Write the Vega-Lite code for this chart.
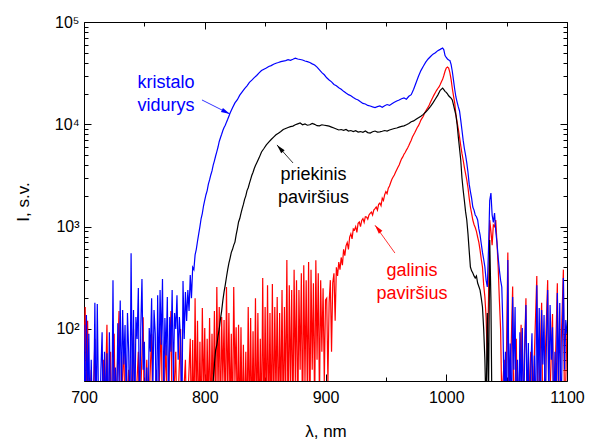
{
"$schema": "https://vega.github.io/schema/vega-lite/v6.json",
"width": 483, "height": 359,
"autosize": {"type": "none"},
"padding": {"left": 84, "top": 22, "right": 33, "bottom": 60},
"background": "white",
"config": {"view": {"stroke": "#000", "strokeWidth": 1}, "scale": {"continuousPadding": 0}, "axis": {"grid": false, "domain": false, "labelFlush": false, "tickColor": "#000", "tickWidth": 1, "labelColor": "#000", "titleColor": "#000", "labelFont": "Liberation Sans", "titleFont": "Liberation Sans"}},
"datasets": {
"b": [{"x":700,"y":110},{"x":701,"y":10},{"x":702,"y":137},{"x":703,"y":20},{"x":704,"y":90},{"x":705,"y":10},{"x":706,"y":50},{"x":707,"y":10},{"x":708,"y":15},{"x":709,"y":180},{"x":710,"y":10},{"x":711,"y":175},{"x":712,"y":20},{"x":713,"y":10},{"x":714,"y":40},{"x":715,"y":93},{"x":716,"y":10},{"x":717,"y":60},{"x":718,"y":15},{"x":719,"y":58},{"x":720,"y":10},{"x":721,"y":93},{"x":722,"y":20},{"x":723,"y":10},{"x":724,"y":300},{"x":725,"y":10},{"x":726,"y":42},{"x":727,"y":10},{"x":728,"y":114},{"x":729,"y":30},{"x":730,"y":190},{"x":731,"y":20},{"x":732,"y":153},{"x":733,"y":45},{"x":734,"y":109},{"x":735,"y":15},{"x":736,"y":143},{"x":737,"y":60},{"x":738,"y":10},{"x":739,"y":550},{"x":740,"y":20},{"x":741,"y":153},{"x":742,"y":10},{"x":743,"y":131},{"x":744,"y":80},{"x":745,"y":251},{"x":746,"y":10},{"x":747,"y":100},{"x":748,"y":307},{"x":749,"y":40},{"x":750,"y":75},{"x":751,"y":10},{"x":752,"y":42},{"x":753,"y":10},{"x":754,"y":102},{"x":755,"y":60},{"x":756,"y":200},{"x":757,"y":25},{"x":758,"y":153},{"x":759,"y":90},{"x":760,"y":10},{"x":761,"y":214},{"x":762,"y":30},{"x":763,"y":240},{"x":764,"y":70},{"x":765,"y":307},{"x":766,"y":20},{"x":767,"y":128},{"x":768,"y":55},{"x":769,"y":205},{"x":770,"y":15},{"x":771,"y":131},{"x":772,"y":60},{"x":773,"y":240},{"x":774,"y":30},{"x":775,"y":143},{"x":776,"y":100},{"x":777,"y":214},{"x":778,"y":50},{"x":779,"y":131},{"x":780,"y":78},{"x":781,"y":10},{"x":782,"y":294},{"x":783,"y":80},{"x":784,"y":230},{"x":785,"y":120},{"x":786,"y":240},{"x":787,"y":150},{"x":788,"y":336},{"x":789,"y":200},{"x":790,"y":400},
{"x":791,"y":380},{"x":792,"y":530},{"x":793,"y":600},{"x":794,"y":720},{"x":795,"y":850},{"x":796,"y":1000},{"x":797,"y":1200},{"x":798,"y":1350},{"x":799,"y":1600},{"x":800,"y":1820},{"x":801,"y":2050},{"x":802,"y":2250},{"x":803,"y":2600},{"x":804,"y":2860},{"x":805,"y":3200},{"x":806,"y":3500},{"x":807,"y":4000},{"x":808,"y":4400},{"x":809,"y":4900},{"x":810,"y":5400},{"x":811,"y":6000},{"x":812,"y":6800},{"x":813,"y":7400},{"x":814,"y":8000},{"x":815,"y":8700},{"x":816,"y":9300},{"x":817,"y":9800},{"x":818,"y":10500},{"x":819,"y":11200},{"x":820,"y":12000},{"x":821,"y":12900},{"x":823,"y":14500},{"x":825,"y":16200},{"x":827,"y":17400},{"x":829,"y":19300},{"x":831,"y":20800},{"x":833,"y":22300},{"x":835,"y":23800},{"x":837,"y":25700},{"x":839,"y":27000},{"x":841,"y":28600},{"x":843,"y":30000},{"x":845,"y":31800},{"x":847,"y":33500},{"x":849,"y":34600},{"x":851,"y":35500},{"x":853,"y":36800},{"x":855,"y":37500},{"x":857,"y":38700},{"x":859,"y":39500},{"x":861,"y":40200},{"x":863,"y":41000},{"x":865,"y":41500},{"x":867,"y":42000},{"x":869,"y":42800},{"x":871,"y":42200},{"x":873,"y":43200},{"x":875,"y":44300},{"x":877,"y":43500},{"x":879,"y":43000},{"x":881,"y":42500},{"x":883,"y":41600},{"x":885,"y":41000},{"x":887,"y":40200},{"x":889,"y":39000},{"x":891,"y":38000},{"x":893,"y":36200},{"x":895,"y":34000},{"x":897,"y":32000},{"x":899,"y":30500},{"x":901,"y":28500},{"x":903,"y":27100},{"x":905,"y":26000},{"x":907,"y":24500},{"x":909,"y":23800},{"x":911,"y":22800},{"x":913,"y":22000},{"x":915,"y":21000},{"x":917,"y":20200},{"x":919,"y":19500},{"x":921,"y":19000},{"x":923,"y":18300},{"x":925,"y":17700},{"x":927,"y":17300},{"x":929,"y":16600},{"x":931,"y":16000},{"x":933,"y":15800},{"x":935,"y":15300},{"x":937,"y":15100},{"x":939,"y":14800},{"x":941,"y":14600},{"x":943,"y":14900},{"x":945,"y":15100},{"x":947,"y":14700},{"x":949,"y":15200},{"x":951,"y":15600},{"x":953,"y":15300},{"x":955,"y":15900},{"x":957,"y":16400},{"x":959,"y":16900},{"x":961,"y":17300},{"x":963,"y":17800},{"x":965,"y":18100},{"x":967,"y":17600},{"x":969,"y":18800},{"x":971,"y":19500},{"x":973,"y":22000},{"x":975,"y":25500},{"x":977,"y":29500},{"x":979,"y":33500},{"x":981,"y":37000},{"x":983,"y":40500},{"x":985,"y":43500},{"x":987,"y":46000},{"x":989,"y":48500},{"x":991,"y":50000},{"x":993,"y":52500},{"x":995,"y":54000},{"x":997,"y":55700},{"x":998,"y":53500},{"x":999,"y":47000},{"x":1000,"y":45000},{"x":1001,"y":43500},{"x":1002,"y":42500},{"x":1003,"y":42000},{"x":1004,"y":38500},{"x":1005,"y":33000},{"x":1006,"y":27000},{"x":1007,"y":22000},{"x":1008,"y":18500},{"x":1009,"y":16500},{"x":1010,"y":14800},{"x":1011,"y":13500},{"x":1012,"y":11000},{"x":1013,"y":8800},{"x":1014,"y":7000},{"x":1015,"y":5800},{"x":1016,"y":5000},{"x":1017,"y":4200},{"x":1018,"y":3400},{"x":1019,"y":2600},{"x":1020,"y":2200},{"x":1021,"y":1900},{"x":1022,"y":1556},{"x":1023,"y":1450},{"x":1024,"y":1300},{"x":1025,"y":1250},{"x":1026,"y":1161},{"x":1027,"y":950},{"x":1028,"y":830},{"x":1029,"y":680},{"x":1030,"y":560},{"x":1031,"y":480},{"x":1032,"y":403},{"x":1033,"y":300},{"x":1034,"y":257},{"x":1035,"y":600},{"x":1036,"y":1800},{"x":1037,"y":2130},{"x":1038,"y":1300},{"x":1039,"y":1100},{"x":1040,"y":1358},{"x":1041,"y":900},{"x":1042,"y":700},{"x":1043,"y":500},{"x":1044,"y":377},{"x":1045,"y":300},{"x":1046,"y":257},{"x":1047,"y":97},{"x":1048,"y":20},
{"x":1049,"y":60},{"x":1050,"y":10},{"x":1051,"y":472},{"x":1052,"y":20},{"x":1053,"y":72},{"x":1054,"y":10},{"x":1055,"y":205},{"x":1056,"y":40},{"x":1057,"y":164},{"x":1058,"y":10},{"x":1059,"y":50},{"x":1060,"y":10},{"x":1061,"y":93},{"x":1062,"y":20},{"x":1063,"y":102},{"x":1064,"y":10},{"x":1065,"y":60},{"x":1066,"y":171},{"x":1067,"y":15},{"x":1068,"y":73},{"x":1069,"y":10},{"x":1070,"y":40},{"x":1071,"y":91},{"x":1072,"y":10},{"x":1073,"y":55},{"x":1074,"y":10},{"x":1075,"y":268},{"x":1076,"y":30},{"x":1077,"y":160},{"x":1078,"y":10},{"x":1079,"y":153},{"x":1080,"y":45},{"x":1081,"y":137},{"x":1082,"y":10},{"x":1083,"y":80},{"x":1084,"y":240},{"x":1085,"y":20},{"x":1086,"y":171},{"x":1087,"y":50},{"x":1088,"y":104},{"x":1089,"y":10},{"x":1090,"y":60},{"x":1091,"y":15},{"x":1092,"y":224},{"x":1093,"y":30},{"x":1094,"y":179},{"x":1095,"y":10},{"x":1096,"y":70},{"x":1097,"y":315},{"x":1098,"y":40},{"x":1099,"y":122},{"x":1100,"y":90}],
"k": [{"x":805,"y":10},{"x":806,"y":20},{"x":807,"y":31},{"x":808,"y":45},{"x":809,"y":62},{"x":810,"y":70},{"x":811,"y":85},{"x":812,"y":100},{"x":813,"y":125},{"x":814,"y":150},{"x":815,"y":190},{"x":816,"y":230},{"x":817,"y":270},{"x":818,"y":322},{"x":819,"y":380},{"x":820,"y":440},{"x":821,"y":493},{"x":822,"y":560},{"x":823,"y":600},{"x":824,"y":660},{"x":825,"y":706},{"x":826,"y":830},{"x":827,"y":950},{"x":828,"y":1110},{"x":829,"y":1200},{"x":830,"y":1350},{"x":831,"y":1500},{"x":832,"y":1650},{"x":833,"y":1850},{"x":834,"y":2000},{"x":835,"y":2250},{"x":836,"y":2400},{"x":837,"y":2650},{"x":838,"y":2900},{"x":839,"y":3180},{"x":840,"y":3400},{"x":841,"y":3700},{"x":842,"y":3950},{"x":843,"y":4190},{"x":845,"y":4700},{"x":847,"y":5370},{"x":849,"y":5800},{"x":851,"y":6300},{"x":853,"y":6700},{"x":855,"y":7100},{"x":857,"y":7500},{"x":859,"y":7900},{"x":861,"y":8200},{"x":863,"y":8500},{"x":865,"y":8900},{"x":867,"y":9100},{"x":869,"y":9300},{"x":871,"y":9500},{"x":873,"y":9600},{"x":875,"y":9900},{"x":877,"y":10100},{"x":879,"y":10300},{"x":881,"y":9900},{"x":883,"y":10100},{"x":885,"y":9800},{"x":887,"y":9900},{"x":889,"y":10200},{"x":891,"y":10000},{"x":893,"y":9700},{"x":895,"y":9650},{"x":897,"y":9900},{"x":899,"y":9800},{"x":901,"y":9700},{"x":903,"y":9600},{"x":905,"y":9400},{"x":907,"y":9200},{"x":909,"y":9000},{"x":911,"y":8800},{"x":913,"y":8900},{"x":915,"y":8750},{"x":917,"y":8900},{"x":919,"y":8600},{"x":921,"y":8700},{"x":923,"y":8500},{"x":925,"y":8650},{"x":927,"y":8400},{"x":929,"y":8500},{"x":931,"y":8350},{"x":933,"y":8600},{"x":935,"y":8300},{"x":937,"y":8200},{"x":939,"y":8450},{"x":941,"y":8600},{"x":943,"y":8400},{"x":945,"y":8450},{"x":947,"y":8550},{"x":949,"y":8700},{"x":951,"y":8600},{"x":953,"y":8800},{"x":955,"y":8950},{"x":957,"y":9100},{"x":959,"y":9200},{"x":961,"y":9400},{"x":963,"y":9550},{"x":965,"y":9650},{"x":967,"y":9900},{"x":969,"y":10200},{"x":971,"y":10600},{"x":973,"y":10800},{"x":975,"y":11200},{"x":977,"y":11600},{"x":979,"y":12000},{"x":981,"y":12500},{"x":983,"y":13200},{"x":985,"y":14000},{"x":987,"y":15000},{"x":989,"y":16200},{"x":991,"y":17700},{"x":993,"y":19300},{"x":995,"y":21500},{"x":997,"y":22600},{"x":998,"y":21800},{"x":999,"y":21000},{"x":1000,"y":20500},{"x":1001,"y":19800},{"x":1002,"y":19000},{"x":1003,"y":18500},{"x":1004,"y":18000},{"x":1005,"y":17300},{"x":1006,"y":15500},{"x":1007,"y":13800},{"x":1008,"y":12300},{"x":1009,"y":10000},{"x":1010,"y":7500},{"x":1011,"y":5800},{"x":1012,"y":4480},{"x":1013,"y":3000},{"x":1014,"y":2280},{"x":1015,"y":1800},{"x":1016,"y":1400},{"x":1017,"y":1161},{"x":1018,"y":850},{"x":1019,"y":580},{"x":1020,"y":403},{"x":1021,"y":370},{"x":1022,"y":352},{"x":1023,"y":330},{"x":1024,"y":315},{"x":1025,"y":330},{"x":1026,"y":281},{"x":1027,"y":260},{"x":1028,"y":240},{"x":1029,"y":200},{"x":1030,"y":164},{"x":1031,"y":100},{"x":1032,"y":50},{"x":1033,"y":15},{"x":1034,"y":143},{"x":1035,"y":20},{"x":1036,"y":740},{"x":1037,"y":192},{"x":1038,"y":10}],
"r": [{"x":700,"y":60},{"x":701,"y":164},{"x":702,"y":10},{"x":703,"y":120},{"x":704,"y":10},{"x":706,"y":40},{"x":707,"y":10},{"x":709,"y":80},{"x":710,"y":10},{"x":713,"y":30},{"x":714,"y":10},{"x":716,"y":50},{"x":717,"y":10},{"x":719,"y":110},{"x":720,"y":10},{"x":722,"y":60},{"x":723,"y":10},{"x":725,"y":90},{"x":726,"y":10},{"x":729,"y":150},{"x":730,"y":10},{"x":733,"y":70},{"x":734,"y":10},{"x":737,"y":40},{"x":738,"y":10},{"x":741,"y":100},{"x":742,"y":10},{"x":745,"y":60},{"x":746,"y":10},{"x":749,"y":130},{"x":750,"y":10},{"x":752,"y":50},{"x":753,"y":10},{"x":756,"y":90},{"x":757,"y":10},{"x":760,"y":40},{"x":761,"y":10},{"x":764,"y":110},{"x":765,"y":10},{"x":768,"y":70},{"x":769,"y":10},{"x":772,"y":150},{"x":773,"y":10},{"x":776,"y":60},{"x":777,"y":10},{"x":780,"y":100},{"x":781,"y":10},{"x":784,"y":50},{"x":785,"y":10},{"x":788,"y":80},{"x":789,"y":10},
{"x":790,"y":78},{"x":791,"y":10},{"x":792,"y":200},{"x":793,"y":15},{"x":794,"y":120},{"x":795,"y":10},{"x":796,"y":75},{"x":797,"y":10},{"x":798,"y":160},{"x":799,"y":20},{"x":800,"y":102},{"x":801,"y":10},{"x":802,"y":80},{"x":803,"y":15},{"x":804,"y":128},{"x":805,"y":10},{"x":806,"y":90},{"x":807,"y":20},{"x":808,"y":150},{"x":809,"y":10},{"x":810,"y":257},{"x":811,"y":25},{"x":812,"y":164},{"x":813,"y":10},{"x":814,"y":131},{"x":815,"y":30},{"x":816,"y":122},{"x":817,"y":10},{"x":818,"y":257},{"x":819,"y":20},{"x":820,"y":143},{"x":821,"y":15},{"x":822,"y":90},{"x":823,"y":10},{"x":824,"y":257},{"x":825,"y":30},{"x":826,"y":104},{"x":827,"y":10},{"x":828,"y":110},{"x":829,"y":10},{"x":830,"y":104},{"x":831,"y":10},{"x":832,"y":70},{"x":833,"y":10},{"x":834,"y":60},{"x":835,"y":10},{"x":836,"y":164},{"x":837,"y":10},{"x":838,"y":128},{"x":839,"y":10},{"x":840,"y":95},{"x":841,"y":10},{"x":842,"y":200},{"x":843,"y":10},{"x":844,"y":143},{"x":845,"y":10},{"x":846,"y":80},{"x":847,"y":10},{"x":848,"y":315},{"x":849,"y":10},{"x":850,"y":164},{"x":851,"y":10},{"x":852,"y":268},{"x":853,"y":10},{"x":854,"y":143},{"x":855,"y":10},{"x":856,"y":275},{"x":857,"y":10},{"x":858,"y":164},{"x":859,"y":20},{"x":860,"y":205},{"x":861,"y":10},{"x":862,"y":143},{"x":863,"y":15},{"x":864,"y":240},{"x":865,"y":10},{"x":866,"y":164},{"x":867,"y":20},{"x":868,"y":472},{"x":869,"y":10},{"x":870,"y":268},{"x":871,"y":25},{"x":872,"y":240},{"x":873,"y":10},{"x":874,"y":380},{"x":875,"y":30},{"x":876,"y":300},{"x":877,"y":10},{"x":878,"y":240},{"x":879,"y":40},{"x":880,"y":350},{"x":881,"y":10},{"x":882,"y":420},{"x":883,"y":30},{"x":884,"y":300},{"x":885,"y":20},{"x":886,"y":450},{"x":887,"y":10},{"x":888,"y":380},{"x":889,"y":40},{"x":890,"y":280},{"x":891,"y":15},{"x":892,"y":470},{"x":893,"y":50},{"x":894,"y":350},{"x":895,"y":20},{"x":896,"y":300},{"x":897,"y":60},{"x":898,"y":250},{"x":899,"y":30},{"x":900,"y":192},
{"x":901,"y":200},{"x":902,"y":30},{"x":903,"y":180},{"x":904,"y":300},{"x":905,"y":60},{"x":906,"y":281},{"x":907,"y":350},{"x":908,"y":120},{"x":909,"y":400},{"x":910,"y":330},{"x":911,"y":451},{"x":912,"y":380},{"x":913,"y":500},{"x":914,"y":420},{"x":915,"y":600},{"x":916,"y":520},{"x":917,"y":650},{"x":918,"y":700},{"x":919,"y":600},{"x":920,"y":791},{"x":921,"y":850},{"x":922,"y":760},{"x":923,"y":950},{"x":924,"y":927},{"x":925,"y":1000},{"x":926,"y":880},{"x":927,"y":1080},{"x":928,"y":1110},{"x":929,"y":1000},{"x":930,"y":1150},{"x":931,"y":1200},{"x":932,"y":1100},{"x":933,"y":1250},{"x":934,"y":1241},{"x":935,"y":1180},{"x":936,"y":1300},{"x":937,"y":1350},{"x":938,"y":1390},{"x":939,"y":1300},{"x":940,"y":1450},{"x":941,"y":1500},{"x":942,"y":1556},{"x":943,"y":1450},{"x":944,"y":1650},{"x":945,"y":1700},{"x":946,"y":1600},{"x":947,"y":1900},{"x":948,"y":1800},{"x":949,"y":2050},{"x":950,"y":2200},{"x":951,"y":2100},{"x":952,"y":2380},{"x":953,"y":2500},{"x":954,"y":2700},{"x":955,"y":2900},{"x":956,"y":3050},{"x":957,"y":3200},{"x":958,"y":3400},{"x":959,"y":3600},{"x":960,"y":3800},{"x":961,"y":4000},{"x":962,"y":4300},{"x":963,"y":4600},{"x":964,"y":4800},{"x":965,"y":5100},{"x":966,"y":5300},{"x":967,"y":5600},{"x":968,"y":5870},{"x":969,"y":6200},{"x":970,"y":6600},{"x":971,"y":7000},{"x":972,"y":7510},{"x":973,"y":7900},{"x":974,"y":8300},{"x":975,"y":8800},{"x":976,"y":9300},{"x":977,"y":9700},{"x":978,"y":10300},{"x":979,"y":11000},{"x":980,"y":11500},{"x":981,"y":12000},{"x":982,"y":12800},{"x":983,"y":13500},{"x":984,"y":14100},{"x":985,"y":14700},{"x":986,"y":15500},{"x":987,"y":16500},{"x":988,"y":17500},{"x":989,"y":18500},{"x":990,"y":19500},{"x":991,"y":20500},{"x":992,"y":21500},{"x":993,"y":22400},{"x":994,"y":23200},{"x":995,"y":24500},{"x":996,"y":26000},{"x":997,"y":27500},{"x":998,"y":30000},{"x":999,"y":33000},{"x":1000,"y":35500},{"x":1001,"y":36300},{"x":1002,"y":35500},{"x":1003,"y":32000},{"x":1004,"y":27500},{"x":1005,"y":22500},{"x":1006,"y":19000},{"x":1007,"y":16200},{"x":1008,"y":12500},{"x":1009,"y":10500},{"x":1010,"y":9000},{"x":1011,"y":7510},{"x":1012,"y":6200},{"x":1013,"y":5200},{"x":1014,"y":4480},{"x":1015,"y":3800},{"x":1016,"y":3300},{"x":1017,"y":2860},{"x":1018,"y":2400},{"x":1019,"y":1900},{"x":1020,"y":1556},{"x":1021,"y":1350},{"x":1022,"y":1161},{"x":1023,"y":1050},{"x":1024,"y":980},{"x":1025,"y":900},{"x":1026,"y":791},{"x":1027,"y":700},{"x":1028,"y":590},{"x":1029,"y":480},{"x":1030,"y":403},{"x":1031,"y":268},{"x":1032,"y":205},{"x":1033,"y":130},{"x":1034,"y":50},{"x":1035,"y":192},{"x":1036,"y":1161},{"x":1037,"y":900},{"x":1038,"y":660},{"x":1039,"y":1037},{"x":1040,"y":1000},{"x":1041,"y":1161},{"x":1042,"y":700},{"x":1043,"y":403},{"x":1044,"y":192},{"x":1045,"y":100},{"x":1046,"y":20},
{"x":1048,"y":50},{"x":1049,"y":10},{"x":1051,"y":560},{"x":1052,"y":10},{"x":1055,"y":260},{"x":1056,"y":10},{"x":1058,"y":80},{"x":1059,"y":10},{"x":1062,"y":110},{"x":1063,"y":10},{"x":1066,"y":200},{"x":1067,"y":10},{"x":1070,"y":60},{"x":1071,"y":10},{"x":1075,"y":330},{"x":1076,"y":10},{"x":1079,"y":180},{"x":1080,"y":10},{"x":1084,"y":300},{"x":1085,"y":10},{"x":1088,"y":140},{"x":1089,"y":10},{"x":1092,"y":280},{"x":1093,"y":10},{"x":1097,"y":380},{"x":1098,"y":10},{"x":1100,"y":100}],
"t": [{"x":767.9,"y":22600,"t":"kristalo\nvidurys","c":"b"},{"x":890,"y":2860,"t":"priekinis\npaviršius","c":"k"},{"x":971.6,"y":329,"t":"galinis\npaviršius","c":"r"}],
"a": [{"x":797.7,"y":17300,"x2":820.9,"y2":12600,"c":"b"},{"x":873.1,"y":4190,"x2":859.8,"y2":6290,"c":"k"},{"x":957.5,"y":552,"x2":941.0,"y2":1032,"c":"r"}]
},
"resolve": {"axis": {"x": "independent", "y": "independent"}},
"layer": [
{"data": {"name": "r"}, "mark": {"type": "line", "color": "#ff0000", "strokeWidth": 1.2, "clip": true},
 "encoding": {
  "x": {"field": "x", "type": "quantitative", "scale": {"domain": [700, 1100], "nice": false, "zero": false, "padding": 0},
        "axis": {"orient": "bottom", "values": [700, 800, 900, 1000, 1100], "format": "d", "ticks": false, "labelPadding": 8, "labelFontSize": 16, "title": "λ, nm", "titleFontSize": 17, "titleFontWeight": "normal", "titlePadding": 18}},
  "y": {"field": "y", "type": "quantitative", "scale": {"type": "log", "domain": [31, 100000], "nice": false, "padding": 0},
        "axis": {"orient": "left", "values": [100, 1000, 10000, 100000], "ticks": false, "labelPadding": 5, "labelFontSize": 16, "labelExpr": "datum.value == 100 ? '10²' : datum.value == 1000 ? '10³' : datum.value == 10000 ? '10⁴' : '10⁵'", "title": "I, s.v.", "titleFontSize": 17, "titleFontWeight": "normal", "titlePadding": 22}}}},
{"data": {"name": "b"}, "mark": {"type": "line", "color": "#0000ff", "strokeWidth": 1.2, "clip": true},
 "encoding": {
  "x": {"field": "x", "type": "quantitative", "axis": {"orient": "bottom", "values": [700, 800, 900, 1000, 1100], "labels": false, "tickSize": -7, "title": null}},
  "y": {"field": "y", "type": "quantitative", "axis": {"orient": "left", "values": [100, 1000, 10000, 100000], "labels": false, "tickSize": -7, "title": null}}}},
{"data": {"name": "k"}, "mark": {"type": "line", "color": "#000000", "strokeWidth": 1.2, "clip": true},
 "encoding": {
  "x": {"field": "x", "type": "quantitative", "axis": {"orient": "top", "values": [700, 800, 900, 1000, 1100], "labels": false, "tickSize": -7, "title": null}},
  "y": {"field": "y", "type": "quantitative", "axis": {"orient": "right", "values": [100, 1000, 10000, 100000], "labels": false, "tickSize": -7, "title": null}}}},
{"data": {"name": "a"}, "mark": {"type": "rule", "strokeWidth": 0.8},
 "encoding": {
  "x": {"field": "x", "type": "quantitative", "axis": {"orient": "bottom", "values": [750, 850, 950, 1050], "labels": false, "tickSize": -4, "title": null}},
  "y": {"field": "y", "type": "quantitative", "axis": {"orient": "left", "values": [40,50,60,70,80,90,200,300,400,500,600,700,800,900,2000,3000,4000,5000,6000,7000,8000,9000,20000,30000,40000,50000,60000,70000,80000,90000], "labels": false, "tickSize": -4, "title": null}},
  "x2": {"field": "x2"}, "y2": {"field": "y2"},
  "color": {"field": "c", "type": "nominal", "scale": {"domain": ["b", "k", "r"], "range": ["#0000ff", "#000000", "#ff0000"]}, "legend": null}}},
{"data": {"name": "t"}, "mark": {"type": "text", "font": "Liberation Sans", "fontSize": 18, "align": "center", "baseline": "alphabetic", "lineBreak": "\n", "lineHeight": 23},
 "encoding": {
  "x": {"field": "x", "type": "quantitative", "axis": {"orient": "top", "values": [750, 850, 950, 1050], "labels": false, "tickSize": -4, "title": null}},
  "y": {"field": "y", "type": "quantitative", "axis": {"orient": "right", "values": [40,50,60,70,80,90,200,300,400,500,600,700,800,900,2000,3000,4000,5000,6000,7000,8000,9000,20000,30000,40000,50000,60000,70000,80000,90000], "labels": false, "tickSize": -4, "title": null}},
  "text": {"field": "t"},
  "color": {"field": "c", "type": "nominal", "legend": null}}},
{"data": {"name": "a"}, "transform": [{"filter": "datum.c == 'b'"}], "mark": {"type": "point", "shape": "M0,0L-0.25,1L0.25,1Z", "size": 324, "filled": true, "opacity": 1, "angle": 116.6, "strokeWidth": 0},
 "encoding": {"x": {"field": "x2", "type": "quantitative", "axis": null}, "y": {"field": "y2", "type": "quantitative", "axis": null}, "color": {"field": "c", "type": "nominal", "legend": null}}},
{"data": {"name": "a"}, "transform": [{"filter": "datum.c == 'k'"}], "mark": {"type": "point", "shape": "M0,0L-0.25,1L0.25,1Z", "size": 324, "filled": true, "opacity": 1, "angle": 318.4, "strokeWidth": 0},
 "encoding": {"x": {"field": "x2", "type": "quantitative", "axis": null}, "y": {"field": "y2", "type": "quantitative", "axis": null}, "color": {"field": "c", "type": "nominal", "legend": null}}},
{"data": {"name": "a"}, "transform": [{"filter": "datum.c == 'r'"}], "mark": {"type": "point", "shape": "M0,0L-0.25,1L0.25,1Z", "size": 324, "filled": true, "opacity": 1, "angle": 321.3, "strokeWidth": 0},
 "encoding": {"x": {"field": "x2", "type": "quantitative", "axis": null}, "y": {"field": "y2", "type": "quantitative", "axis": null}, "color": {"field": "c", "type": "nominal", "legend": null}}}
]
}
